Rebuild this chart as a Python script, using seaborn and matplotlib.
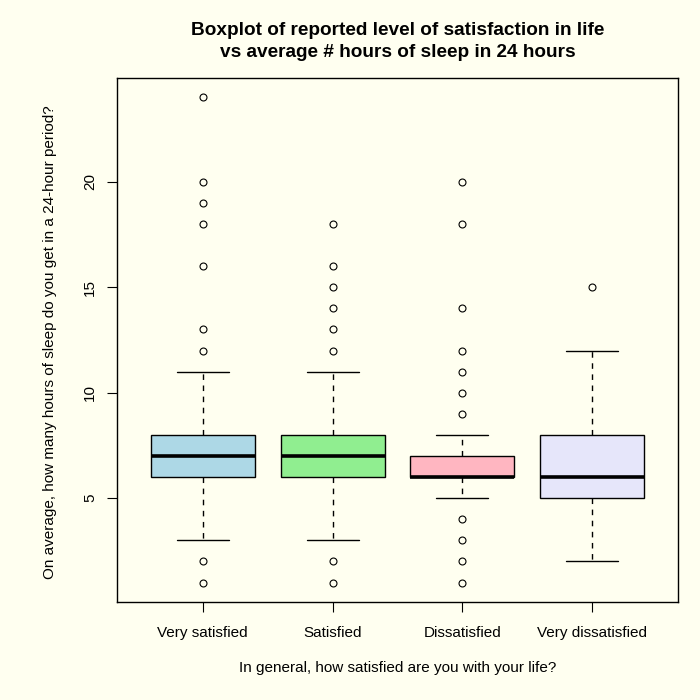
import numpy as np
import matplotlib
matplotlib.use("Agg")
import matplotlib.pyplot as plt
import seaborn as sns

# ==========================================
# DATA
# ==========================================

groups = ["Very satisfied", "Satisfied", "Dissatisfied", "Very dissatisfied"]

whisker_low = [3, 3, 5, 2]
q1 = [6, 6, 6, 5]
median = [7, 7, 6, 6]
q3 = [8, 8, 7, 8]
whisker_high = [11, 11, 8, 12]

outliers = [
    [1, 2, 12, 13, 16, 18, 19, 20, 24],
    [1, 2, 12, 13, 14, 15, 16, 18],
    [1, 2, 3, 4, 9, 10, 11, 12, 14, 18, 20],
    [15],
]

box_colors = ["lightblue", "lightgreen", "lightpink", "lavender"]

y_ticks = [5, 10, 15, 20]

# ==========================================
# STYLE
# ==========================================

sns.set_style("ticks")
bg = "#FFFFF0"
plt.rcParams["font.family"] = ["Liberation Sans", "DejaVu Sans"]
plt.rcParams["text.color"] = "black"

fig = plt.figure(figsize=(7, 7), dpi=100, facecolor=bg)
ax = fig.add_axes([117 / 700, 1 - 602 / 700, (678 - 117) / 700, (602 - 78) / 700])
ax.set_facecolor(bg)

stats = []
for i, g in enumerate(groups):
    stats.append({
        "label": g,
        "whislo": whisker_low[i],
        "q1": q1[i],
        "med": median[i],
        "q3": q3[i],
        "whishi": whisker_high[i],
        "fliers": outliers[i],
    })

positions = np.arange(1, len(groups) + 1)

bp = ax.bxp(
    stats,
    positions=positions,
    widths=0.8,
    patch_artist=True,
    showfliers=True,
    boxprops=dict(edgecolor="black", linewidth=1.0),
    medianprops=dict(color="black", linewidth=2.6, solid_capstyle="butt"),
    whiskerprops=dict(color="black", linewidth=1.0, linestyle=(0, (4, 4))),
    capprops=dict(color="black", linewidth=1.0),
    flierprops=dict(marker="o", markersize=5, markerfacecolor="none",
                    markeredgecolor="black", markeredgewidth=0.8),
    capwidths=0.4,
)

for patch, c in zip(bp["boxes"], box_colors):
    patch.set_facecolor(c)

ax.set_xlim(0.34, 4.66)
ax.set_ylim(0.08, 24.92)

ax.set_xticks(positions)
ax.set_xticklabels(groups, fontsize=11)
ax.set_yticks(y_ticks)
ax.set_yticklabels([str(t) for t in y_ticks], fontsize=11, rotation=90, va="center")

ax.tick_params(axis="both", direction="out", length=7, width=0.8, color="black",
               labelcolor="black")
ax.tick_params(axis="x", pad=10.5)
ax.tick_params(axis="y", pad=7.4)

for s in ax.spines.values():
    s.set_visible(True)
    s.set_color("black")
    s.set_linewidth(1.0)

fig.text(397.5 / 700, 1 - 41.5 / 700,
         "Boxplot of reported level of satisfaction in life\nvs average # hours of sleep in 24 hours",
         ha="center", va="center", fontsize=13.7, fontweight="bold", linespacing=1.38,
         color="black")

fig.text(397.5 / 700, 1 - 668 / 700, "In general, how satisfied are you with your life?",
         ha="center", va="center", fontsize=11, color="black")

fig.text(50 / 700, 1 - 342 / 700,
         "On average, how many hours of sleep do you get in a 24-hour period?",
         ha="center", va="center", rotation=90, fontsize=11, color="black")

fig.savefig("out.png", dpi=100, facecolor=bg)
